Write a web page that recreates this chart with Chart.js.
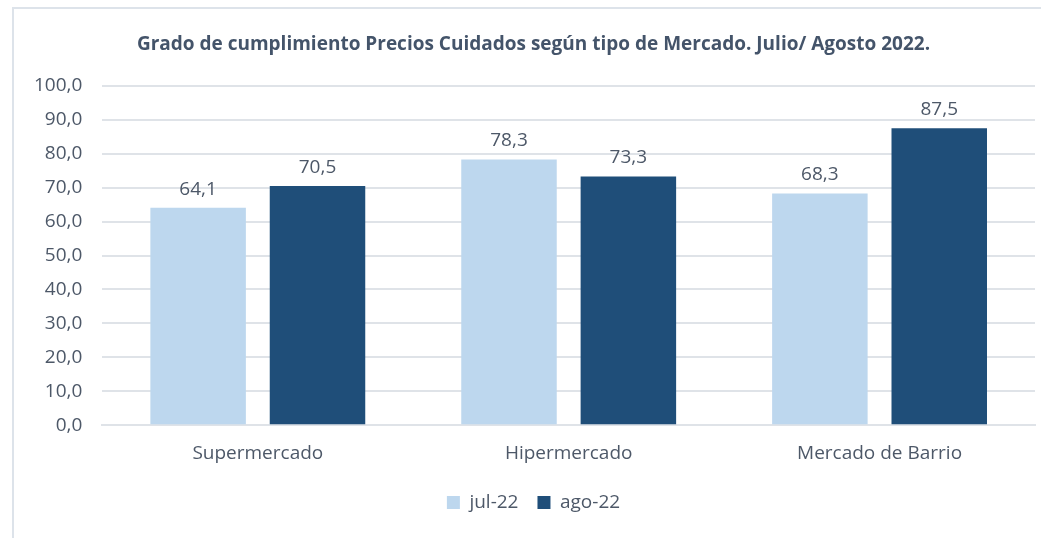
<!DOCTYPE html>
<html>
<head>
<meta charset="utf-8">
<script src="https://cdn.jsdelivr.net/npm/chart.js@4"></script>
<style>
    body { margin: 0; background: #fff; }
    #marco {
        position: absolute; left: 12px; top: 7px; width: 1029px; height: 531px;
        border-left: 2px solid #dde3ea; border-top: 2px solid #dde3ea;
        box-sizing: border-box;
    }
    #grafico { position: absolute; left: 0; top: 0; }
</style>
</head>
<body>
<div id="marco"><canvas id="grafico" width="1027" height="529"></canvas></div>
<script>
var categorias = ['Supermercado', 'Hipermercado', 'Mercado de Barrio'];
var series = ['jul-22', 'ago-22'];
var valoresJul = [64.1, 78.3, 68.3];
var valoresAgo = [70.5, 73.3, 87.5];
var cores = ['#bdd7ee', '#1f4e79'];
var corTexto = '#4d5868';
var fonte = "'Open Sans', sans-serif";

function formata(v) {
    return v.toFixed(1).replace('.', ',');
}

// escreve o valor em cima de cada barra
var rotulos = {
    id: 'rotulos',
    afterDatasetsDraw: function (chart) {
        var ctx = chart.ctx;
        ctx.save();
        ctx.font = '19px ' + fonte;
        ctx.fillStyle = corTexto;
        ctx.textAlign = 'center';
        ctx.textBaseline = 'bottom';
        chart.data.datasets.forEach(function (ds, i) {
            chart.getDatasetMeta(i).data.forEach(function (bar, j) {
                ctx.fillText(formata(ds.data[j]), bar.x, bar.y - 9);
            });
        });
        ctx.restore();
    }
};

var ctx = document.getElementById('grafico');
var myChart = new Chart(ctx, {
    type: 'bar',
    data: {
        labels: categorias,
        datasets: [{
                label: series[0],
                data: valoresJul,
                backgroundColor: cores[0]
            }, {
                label: series[1],
                data: valoresAgo,
                backgroundColor: cores[1]
            }]
    },
    options: {
        responsive: false,
        animation: false,
        layout: { padding: { left: 18, right: 6, top: 0, bottom: 16 } },
        categoryPercentage: 0.768,
        barPercentage: 0.8,
        plugins: {
            title: {
                display: true,
                text: 'Grado de cumplimiento Precios Cuidados según tipo de Mercado. Julio/ Agosto 2022.',
                color: '#44546a',
                font: { family: fonte, size: 19, weight: 'bold' },
                padding: { top: 24, bottom: 30 }
            },
            legend: {
                position: 'bottom',
                labels: {
                    color: corTexto,
                    font: { family: fonte, size: 19 },
                    boxWidth: 13,
                    boxHeight: 13,
                    padding: 19
                }
            },
            tooltip: { enabled: false }
        },
        scales: {
            x: {
                grid: { display: false },
                border: { color: '#dfe3e8', width: 2 },
                ticks: { color: corTexto, font: { family: fonte, size: 19 }, padding: 9 }
            },
            y: {
                min: 0,
                max: 100,
                grid: { color: '#dfe3e8', lineWidth: 2, drawTicks: false },
                border: { display: false },
                afterFit: function (escala) { escala.width -= 18; },
                ticks: {
                    stepSize: 10,
                    color: corTexto,
                    font: { family: fonte, size: 19 },
                    padding: 20,
                    callback: function (v) { return formata(v); }
                }
            }
        }
    },
    plugins: [rotulos]
});
</script>
</body>
</html>
